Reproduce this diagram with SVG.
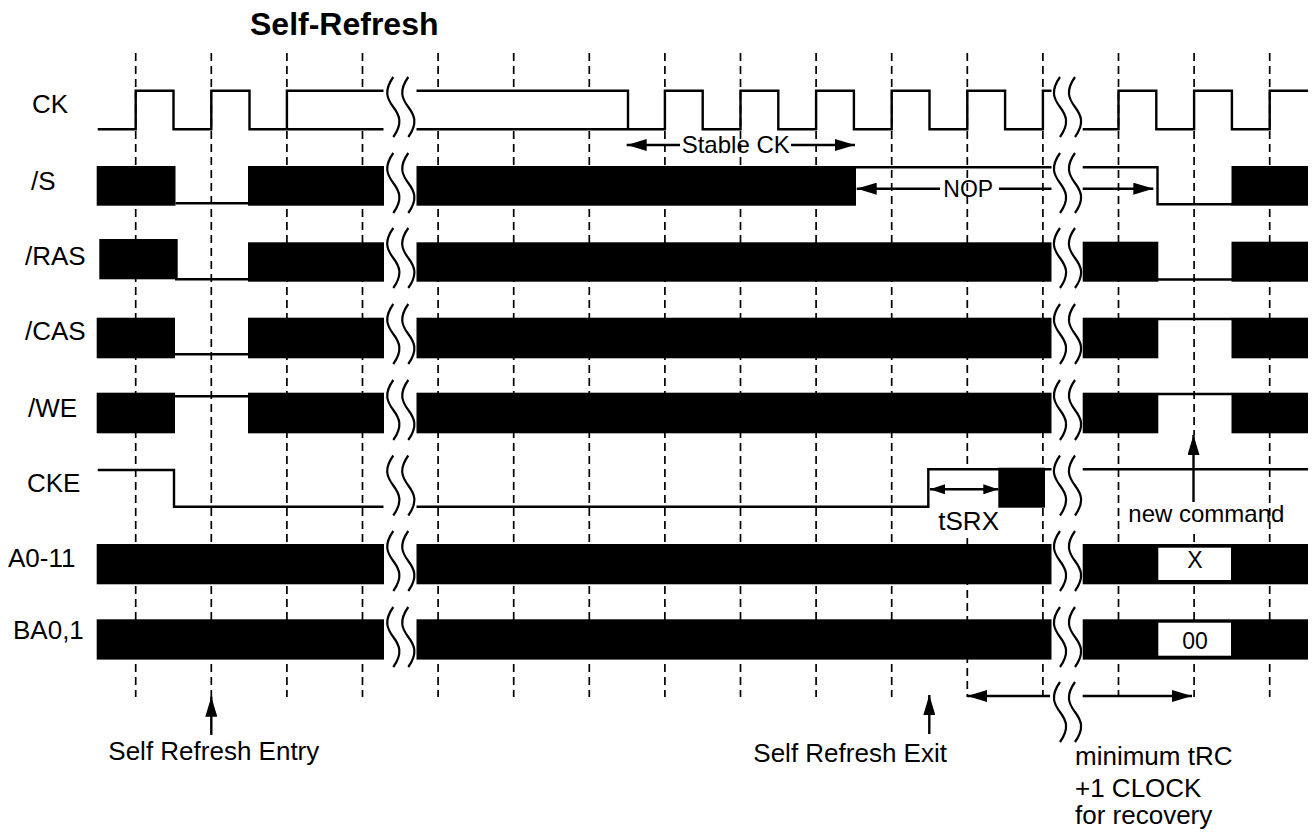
<svg xmlns="http://www.w3.org/2000/svg" width="1313" height="832" viewBox="0 0 1313 832">
<style>
.sig{fill:none;stroke:#000;stroke-width:2.4}
.bar{fill:#000}
.wbox{fill:#fff;stroke:none}
.grid{stroke:#000;stroke-width:1.7;stroke-dasharray:8 5;fill:none}
.brk{fill:none;stroke:#000;stroke-width:2.2}
.arr{fill:none;stroke:#000;stroke-width:2.4}
text{font-family:"Liberation Sans",Arial,Helvetica,sans-serif;fill:#000}
.lbl{font-size:26px}
.sm{font-size:24px}
.title{font-size:32px;font-weight:bold}
.mid{text-anchor:middle}
</style>
<defs>
<marker id="ah" viewBox="0 0 20 12" refX="20" refY="6" markerWidth="20" markerHeight="12" orient="auto-start-reverse" markerUnits="userSpaceOnUse"><path d="M0,0 L20,6 L0,12 z" fill="#000"/></marker>
<marker id="ahs" viewBox="0 0 15 10" refX="15" refY="5" markerWidth="15" markerHeight="10" orient="auto-start-reverse" markerUnits="userSpaceOnUse"><path d="M0,0 L15,5 L0,10 z" fill="#000"/></marker>
<path id="brk" class="brk" d="M0,0 C-10,14 -6,22 0,30 S10,46 0,60 M15,0 C5,14 9,22 15,30 S25,46 15,60"/>
</defs>
<rect width="1313" height="832" fill="#fff"/>

<g id="grid">
<path class="grid" d="M135.7,53V697 M211.3,53V697 M286.9,53V697 M362.5,53V697 M438.1,53V697 M513.7,53V697 M589.3,53V697 M664.9,53V697 M740.5,53V697 M816.1,53V697 M891.7,53V697 M967.3,53V470 M967.3,538V697 M1042.9,53V697 M1118.5,53V697 M1194.1,53V435 M1194.1,534V697 M1269.7,53V697"/>
</g>

<text class="title" x="250" y="34.5">Self-Refresh</text>

<g id="ck">
<text class="lbl" x="32" y="113">CK</text>
<rect class="wbox" x="286.9" y="90.7" width="96.6" height="38.6"/>
<rect class="wbox" x="416.5" y="90.7" width="211.5" height="38.6"/>
<path class="sig" d="M97.7,129.3H135.7V90.7H173.5V129.3H211.3V90.7H249.5V129.3H286.9V90.7H383.5M286.9,129.3H383.5"/>
<path class="sig" d="M416.5,90.7H628V129.3M416.5,129.3H664.9V90.7H702.7V129.3H740.5V90.7H778.3V129.3H816.1V90.7H853.9V129.3H891.7V90.7H929.5V129.3H967.3V90.7H1005.1V129.3H1042.9V90.7H1051.5"/>
<path class="sig" d="M1082.7,129.3H1118.5V90.7H1156.3V129.3H1194.1V90.7H1231.9V129.3H1269.7V90.7H1308"/>
</g>

<g id="s">
<text class="lbl" x="31" y="190">/S</text>
<rect class="bar" x="96.7" y="166" width="78.8" height="39.7"/>
<path class="sig" d="M175.5,203.3H248"/>
<rect class="bar" x="248" y="166" width="136" height="39.7"/>
<rect class="bar" x="416.5" y="166" width="439.5" height="39.7"/>
<path class="sig" d="M856,167.2H1051.5M1082.7,167.2H1157.5V204.3H1232"/>
<rect class="bar" x="1231.5" y="166" width="76.5" height="39.7"/>
</g>

<g id="ras">
<text class="lbl" x="25" y="265">/RAS</text>
<rect class="bar" x="99.3" y="239" width="78.4" height="40.3"/>
<path class="sig" d="M175,279.3H248"/>
<rect class="bar" x="248" y="242.3" width="136" height="39.4"/>
<rect class="bar" x="416.5" y="242.3" width="635" height="39.4"/>
<rect class="bar" x="1082.7" y="241.7" width="75.6" height="40"/>
<path class="sig" d="M1158,279.5H1232"/>
<rect class="bar" x="1231.5" y="241.7" width="76.5" height="40"/>
</g>

<g id="cas">
<text class="lbl" x="25" y="340">/CAS</text>
<rect class="bar" x="96.7" y="317.7" width="78.3" height="40.6"/>
<path class="sig" d="M175,354.3H248"/>
<rect class="bar" x="248" y="317.7" width="136" height="40.6"/>
<rect class="bar" x="416.5" y="317.7" width="635" height="40.6"/>
<rect class="bar" x="1082.7" y="317.7" width="75.6" height="40.6"/>
<path class="sig" d="M1158,319H1232"/>
<rect class="bar" x="1231.5" y="317.7" width="76.5" height="40.6"/>
</g>

<g id="we">
<text class="lbl" x="28" y="417">/WE</text>
<rect class="bar" x="96.7" y="392.7" width="78.3" height="40.6"/>
<path class="sig" d="M175,396.3H248"/>
<rect class="bar" x="248" y="392.7" width="136" height="40.6"/>
<rect class="bar" x="416.5" y="392.7" width="635" height="40.6"/>
<rect class="bar" x="1082.7" y="392.7" width="75.6" height="40.6"/>
<path class="sig" d="M1158,394H1232"/>
<rect class="bar" x="1231.5" y="392.7" width="76.5" height="40.6"/>
</g>

<g id="cke">
<text class="lbl" x="27" y="492">CKE</text>
<path class="sig" d="M97.7,470H174V506.7H383.5"/>
<path class="sig" d="M416.5,506.7H928.3V469.3H1051.5"/>
<rect class="bar" x="998.3" y="467.7" width="46.7" height="40"/>
<path class="sig" d="M1082.7,469.3H1308"/>
</g>

<g id="a011">
<text class="lbl" x="8" y="567">A0-11</text>
<rect class="bar" x="96.7" y="544" width="287.3" height="40.3"/>
<rect class="bar" x="416.5" y="544" width="635" height="40.3"/>
<rect class="bar" x="1082.7" y="544" width="225.3" height="40.3"/>
<rect class="wbox" x="1158.3" y="547.7" width="72.7" height="32.3"/>
<text class="lbl mid" x="1195" y="568" style="font-size:23px">X</text>
</g>

<g id="ba01">
<text class="lbl" x="13" y="639">BA0,1</text>
<rect class="bar" x="96.7" y="619.3" width="287.3" height="40.3"/>
<rect class="bar" x="416.5" y="619.3" width="635" height="40.3"/>
<rect class="bar" x="1082.7" y="619.3" width="225.3" height="40.3"/>
<rect class="wbox" x="1158.3" y="622.7" width="72.7" height="33"/>
<text class="lbl mid" x="1195" y="649" style="font-size:23px">00</text>
</g>

<g id="breaks">
<use href="#brk" x="393.3" y="77"/>
<use href="#brk" x="393.3" y="153"/>
<use href="#brk" x="393.3" y="228"/>
<use href="#brk" x="393.3" y="304"/>
<use href="#brk" x="393.3" y="380"/>
<use href="#brk" x="393.3" y="455.5"/>
<use href="#brk" x="393.3" y="531"/>
<use href="#brk" x="393.3" y="607"/>
<use href="#brk" x="1060" y="77"/>
<use href="#brk" x="1060" y="153"/>
<use href="#brk" x="1060" y="228"/>
<use href="#brk" x="1060" y="304"/>
<use href="#brk" x="1060" y="380"/>
<use href="#brk" x="1060" y="455.5"/>
<use href="#brk" x="1060" y="531"/>
<use href="#brk" x="1060" y="607"/>
<use href="#brk" x="1060" y="682"/>
</g>

<g id="connectors">
<path class="arr" d="M680,145H626.7" marker-end="url(#ah)"/>
<path class="arr" d="M791,145H855" marker-end="url(#ah)"/>
<path class="arr" d="M940,188.7H856.7" marker-end="url(#ah)"/>
<path class="arr" d="M999,188.7H1051.5"/>
<path class="arr" d="M1082.7,188.7H1153.3" marker-end="url(#ah)"/>
<path class="arr" d="M930,489.3H998.3" marker-start="url(#ahs)" marker-end="url(#ahs)"/>
<path class="arr" d="M1193.5,502V435" marker-end="url(#ah)"/>
<path class="arr" d="M211.3,735V696.7" marker-end="url(#ah)"/>
<path class="arr" d="M929.3,734V695" marker-end="url(#ah)"/>
<path class="arr" d="M1050,696H967.3" marker-end="url(#ah)"/>
<path class="arr" d="M1082.7,696H1192" marker-end="url(#ah)"/>
</g>

<g id="notes">
<text class="sm" x="681.7" y="153.3">Stable CK</text>
<text class="sm" x="943.3" y="196.5" style="font-size:23px">NOP</text>
<text class="lbl" x="938.3" y="530">tSRX</text>
<text class="sm" x="1128.3" y="521.7">new command</text>
<text class="lbl" x="108.3" y="760">Self Refresh Entry</text>
<text class="lbl" x="753.3" y="761.5">Self Refresh Exit</text>
<text class="lbl" x="1075" y="765">minimum tRC</text>
<text class="lbl" x="1075" y="796.5">+1 CLOCK</text>
<text class="lbl" x="1075" y="824">for recovery</text>
</g>
</svg>
